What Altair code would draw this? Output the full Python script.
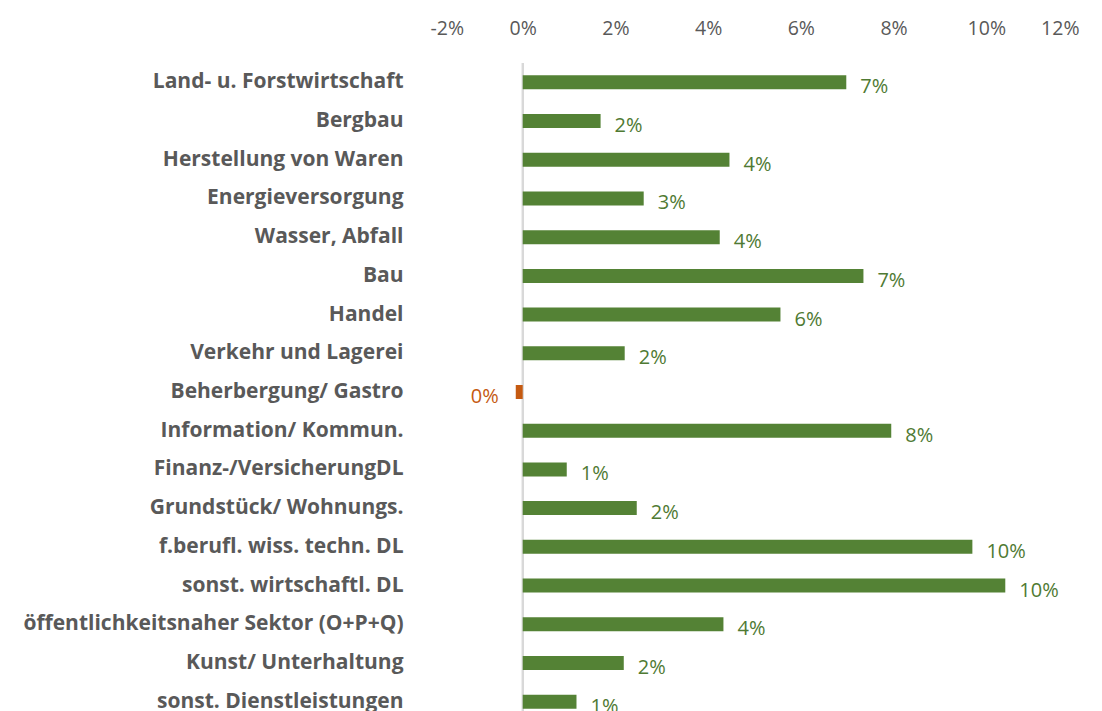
import altair as alt
import pandas as pd

categories = [
    "Land- u. Forstwirtschaft",
    "Bergbau",
    "Herstellung von Waren",
    "Energieversorgung",
    "Wasser, Abfall",
    "Bau",
    "Handel",
    "Verkehr und Lagerei",
    "Beherbergung/ Gastro",
    "Information/ Kommun.",
    "Finanz-/VersicherungDL",
    "Grundstück/ Wohnungs.",
    "f.berufl. wiss. techn. DL",
    "sonst. wirtschaftl. DL",
    "öffentlichkeitsnaher Sektor (O+P+Q)",
    "Kunst/ Unterhaltung",
    "sonst. Dienstleistungen",
]
values = [6.98, 1.68, 4.46, 2.61, 4.25, 7.35, 5.56, 2.2, -0.15, 7.95,
          0.95, 2.46, 9.7, 10.41, 4.33, 2.18, 1.16]
tick_values = [-2, 0, 2, 4, 6, 8, 10, 12]

GREEN = "#548235"
TEXT_GREEN = "#4F7A33"
ORANGE = "#C55A11"
GRAY = "#595959"
FONT = "Open Sans"

df = pd.DataFrame({"Sektor": categories, "Wert": values})

x_enc = alt.X(
    "Wert:Q",
    title=None,
    scale=alt.Scale(domain=[-2, 12], nice=False, zero=False),
    axis=alt.Axis(
        orient="top", values=tick_values, labelExpr="datum.value + '%'",
        domain=False, ticks=False, grid=False, labelFontSize=19.5,
        labelColor=GRAY, labelFont=FONT, labelPadding=25,
    ),
)
y_enc = alt.Y(
    "Sektor:N",
    title=None,
    sort=categories,
    scale=alt.Scale(range=[0, 658], paddingInner=0, paddingOuter=0),
    axis=alt.Axis(
        domain=False, ticks=False, grid=False, labelFontSize=21,
        labelFontWeight="bold", labelColor=GRAY, labelFont=FONT,
        labelPadding=27, labelLimit=500,
    ),
)

base = alt.Chart(df).transform_calculate(
    Label="format(datum.Wert / 100, '.0%')"
)

rule = alt.Chart(df).mark_rule(color="#D9D9D9", strokeWidth=1.5).encode(
    x=alt.datum(0), y=alt.value(0), y2=alt.value(700)
)

bars = base.mark_bar(size=14).encode(
    x=x_enc,
    y=y_enc,
    color=alt.condition("datum.Wert < 0", alt.value(ORANGE), alt.value(GREEN)),
)

pos_text = base.transform_filter("datum.Wert >= 0").mark_text(
    align="left", baseline="middle", dx=14, dy=5, fontSize=20, font=FONT,
    color=TEXT_GREEN,
).encode(x="Wert:Q", y=alt.Y("Sektor:N", sort=categories), text="Label:N")

neg_text = base.transform_filter("datum.Wert < 0").mark_text(
    align="right", baseline="middle", dx=-17, dy=5, fontSize=20, font=FONT,
    color=ORANGE,
).encode(x="Wert:Q", y=alt.Y("Sektor:N", sort=categories), text="Label:N")

chart = alt.layer(rule, bars, pos_text, neg_text).properties(
    width=649,
    height=656,
    autosize=alt.AutoSizeParams(type="none"),
    padding={"left": 422, "top": 55, "right": 15, "bottom": 0},
).configure_view(stroke=None)

chart.save("out.html", embed_options={"renderer": "svg", "actions": False})
